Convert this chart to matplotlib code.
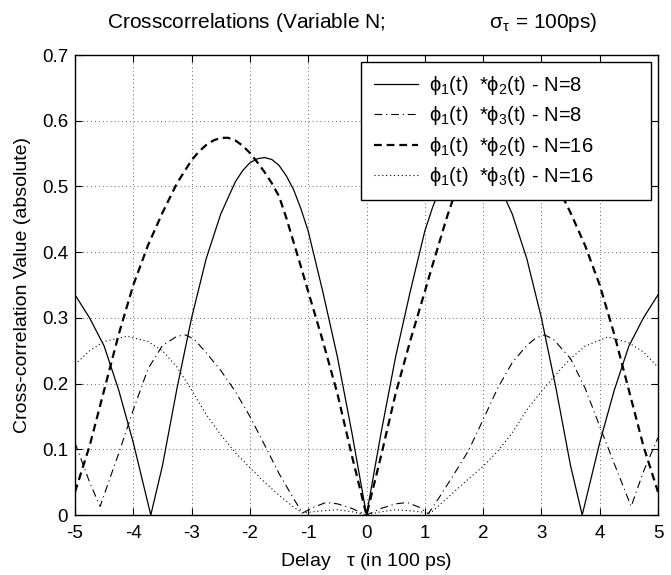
import matplotlib
matplotlib.use('Agg')
import matplotlib.pyplot as plt

plt.rcParams['font.family'] = ['Liberation Sans', 'DejaVu Sans']
plt.rcParams['mathtext.fontset'] = 'custom'
plt.rcParams['mathtext.rm'] = 'Liberation Sans'
plt.rcParams['mathtext.it'] = 'Liberation Sans:italic'
plt.rcParams['mathtext.sf'] = 'Liberation Sans'

# phi1 * phi2, N=8 (solid)
x_s8 = [-5, -4.75, -4.5, -4.25, -4, -3.85, -3.7, -3.5, -3.25, -3, -2.75, -2.5, -2.25, -2.125, -2, -1.875,
        -1.75, -1.625, -1.5, -1.375, -1.25, -1.125, -1, -0.75, -0.5, -0.25, 0,
        0.25, 0.5, 0.75, 1, 1.125, 1.25, 1.375, 1.5, 1.625, 1.75, 1.875, 2, 2.125, 2.25, 2.5, 2.75,
        3, 3.25, 3.5, 3.7, 3.85, 4, 4.25, 4.5, 4.75, 5]
y_s8 = [0.335, 0.300, 0.257, 0.190, 0.110, 0.055, 0.0, 0.075, 0.193, 0.300, 0.390, 0.458, 0.507, 0.524, 0.536, 0.542,
        0.544, 0.541, 0.532, 0.516, 0.495, 0.466, 0.432, 0.340, 0.241, 0.125, 0.0,
        0.125, 0.241, 0.340, 0.432, 0.466, 0.495, 0.516, 0.532, 0.541, 0.544, 0.542, 0.536, 0.524, 0.507, 0.458, 0.390,
        0.300, 0.193, 0.075, 0.0, 0.055, 0.110, 0.190, 0.257, 0.300, 0.335]

# phi1 * phi3, N=8 (dash-dot)
x_d8 = [-5, -4.75, -4.57, -4.25, -4, -3.75, -3.5, -3.25, -3.1, -2.95, -2.75, -2.5, -2.25, -2, -1.75,
        -1.5, -1.25, -1.1, -0.9, -0.7, -0.5, -0.25, 0,
        0.25, 0.5, 0.7, 0.9, 1.06, 1.25, 1.5, 1.75, 2, 2.25, 2.5, 2.75, 2.9, 3.05, 3.2, 3.5,
        3.75, 4, 4.25, 4.54, 4.75, 5]
y_d8 = [0.110, 0.050, 0.013, 0.094, 0.160, 0.222, 0.258, 0.272, 0.274, 0.267, 0.247, 0.220, 0.188, 0.150, 0.107,
        0.063, 0.025, 0.003, 0.012, 0.019, 0.017, 0.010, 0.0,
        0.010, 0.017, 0.019, 0.012, 0.002, 0.027, 0.062, 0.098, 0.145, 0.193, 0.232, 0.258, 0.269, 0.274, 0.268, 0.238,
        0.193, 0.135, 0.078, 0.013, 0.066, 0.118]

# phi1 * phi2, N=16 (dashed)
x_s16 = [-5, -4.75, -4.5, -4.25, -4, -3.75, -3.5, -3.25, -3, -2.875, -2.75, -2.625, -2.5, -2.375, -2.25,
         -2.125, -2, -1.875, -1.75, -1.625, -1.5, -1.375, -1.25, -1.125, -1, -0.75, -0.5, -0.25, 0,
         0.25, 0.5, 0.75, 1, 1.125, 1.25, 1.375, 1.5, 1.625, 1.75, 1.875, 2, 2.125, 2.25, 2.375,
         2.5, 2.625, 2.75, 2.875, 3, 3.25, 3.5, 3.75, 4, 4.25, 4.5, 4.75, 5]
y_s16 = [0.035, 0.105, 0.190, 0.275, 0.350, 0.410, 0.460, 0.505, 0.540, 0.553, 0.563, 0.570, 0.574, 0.574, 0.570,
         0.562, 0.551, 0.537, 0.522, 0.505, 0.485, 0.452, 0.415, 0.378, 0.340, 0.265, 0.185, 0.090, 0.0,
         0.090, 0.185, 0.265, 0.340, 0.378, 0.415, 0.452, 0.485, 0.505, 0.522, 0.537, 0.551, 0.562, 0.570, 0.574,
         0.574, 0.570, 0.563, 0.553, 0.540, 0.505, 0.460, 0.410, 0.350, 0.275, 0.190, 0.105, 0.035]

# phi1 * phi3, N=16 (dotted)
x_d16 = [-5, -4.75, -4.5, -4.11, -3.75, -3.5, -3.25, -3, -2.75, -2.5, -2.25, -2, -1.75,
         -1.5, -1.25, -1.1, -0.8, -0.5, -0.25, 0,
         0.25, 0.5, 0.8, 1.1, 1.25, 1.5, 1.75, 2, 2.25, 2.5, 2.75, 3, 3.25, 3.5,
         3.75, 4.14, 4.5, 4.75, 5]
y_d16 = [0.229, 0.250, 0.264, 0.272, 0.264, 0.250, 0.225, 0.190, 0.153, 0.122, 0.095, 0.072, 0.050,
         0.030, 0.012, 0.003, 0.006, 0.008, 0.005, 0.0,
         0.005, 0.008, 0.006, 0.003, 0.015, 0.035, 0.055, 0.074, 0.097, 0.125, 0.160, 0.188, 0.214, 0.238,
         0.257, 0.271, 0.262, 0.248, 0.225]

# trailing spaces give the wide right margin of the legend box
labels = [r'$\mathrm{\phi}_1$(t)  *$\mathrm{\phi}_2$(t) - N=8' + ' ' * 9,
          r'$\mathrm{\phi}_1$(t)  *$\mathrm{\phi}_3$(t) - N=8' + ' ' * 9,
          r'$\mathrm{\phi}_1$(t)  *$\mathrm{\phi}_2$(t) - N=16' + ' ' * 9,
          r'$\mathrm{\phi}_1$(t)  *$\mathrm{\phi}_3$(t) - N=16' + ' ' * 9]

fig = plt.figure(figsize=(6.71, 5.75), dpi=100)
ax = fig.add_axes([75/671, 1 - 515/575, 583/671, 460/575])

ax.plot(x_s8, y_s8, color='k', lw=0.9, ls='-', label=labels[0])
ax.plot(x_d8, y_d8, color='k', lw=0.8, ls=(0, (7, 3.5, 1, 3.5)), label=labels[1])
ax.plot(x_s16, y_s16, color='k', lw=1.6, ls=(0, (3.5, 2.2)), label=labels[2])
ax.plot(x_d16, y_d16, color='k', lw=0.8, ls=(0, (1, 2.5)), label=labels[3])

ax.set_xlim(-5, 5)
ax.set_ylim(0, 0.7)
ax.set_xticks(range(-5, 6))
ax.set_xticklabels([str(v) for v in range(-5, 6)])
ax.set_yticks([0, 0.1, 0.2, 0.3, 0.4, 0.5, 0.6, 0.7])
ax.set_yticklabels(['0', '0.1', '0.2', '0.3', '0.4', '0.5', '0.6', '0.7'])
ax.tick_params(direction='in', top=True, right=True, length=5, width=0.8, labelsize=13.5)
ax.tick_params(axis='x', pad=7)
ax.tick_params(axis='y', pad=5)
ax.grid(True, color='#666666', ls=(0, (1, 3)), lw=0.7)
for sp in ax.spines.values():
    sp.set_linewidth(1.0)

ax.set_xlabel(r'Delay   $\mathrm{\tau}$ (in 100 ps)', fontsize=14, labelpad=7)
ax.set_ylabel('Cross-correlation Value (absolute)', fontsize=14, labelpad=8)
fig.text(107/671, 1 - 22/575,
         r'Crosscorrelations (Variable N;                  $\mathrm{\sigma}_\mathrm{\tau}$ = 100ps)',
         fontsize=15, ha='left', va='center')

leg = ax.legend(loc='upper right', bbox_to_anchor=(1 - 7/583, 1 - 7/460), borderaxespad=0,
                fontsize=14.5, handlelength=2.2, handletextpad=0.55, labelspacing=0.36,
                borderpad=0.6, fancybox=False, edgecolor='k', framealpha=1)
leg.get_frame().set_linewidth(1.0)

fig.savefig('out.png', dpi=100)
